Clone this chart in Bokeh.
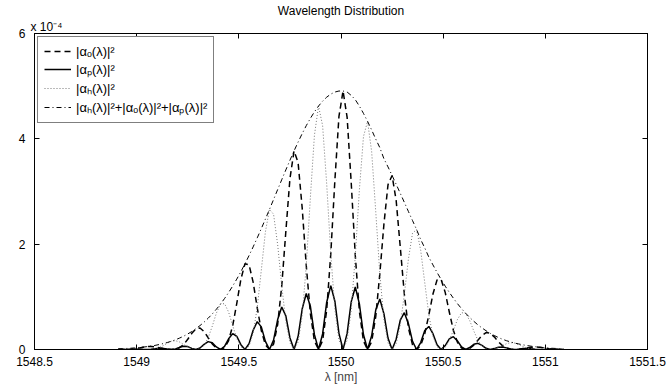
from bokeh.plotting import figure
from bokeh.models import Range1d, LinearAxis, FixedTicker, Legend, LegendItem, Title
from bokeh.embed import file_html
from bokeh.resources import INLINE

# wavelength samples [nm]
wavelength = [
    1548.91, 1548.93, 1548.95, 1548.97, 1548.99,
    1549.01, 1549.03, 1549.05, 1549.07, 1549.09, 1549.11, 1549.13, 1549.15, 1549.17, 1549.19,
    1549.21, 1549.23, 1549.25, 1549.27, 1549.29, 1549.31, 1549.33, 1549.35, 1549.37, 1549.39,
    1549.41, 1549.43, 1549.45, 1549.47, 1549.49, 1549.51, 1549.53, 1549.55, 1549.57, 1549.59,
    1549.61, 1549.63, 1549.65, 1549.67, 1549.69, 1549.71, 1549.73, 1549.75, 1549.77, 1549.79,
    1549.81, 1549.83, 1549.85, 1549.87, 1549.89, 1549.91, 1549.93, 1549.95, 1549.97, 1549.99,
    1550.01, 1550.03, 1550.05, 1550.07, 1550.09, 1550.11, 1550.13, 1550.15, 1550.17, 1550.19,
    1550.21, 1550.23, 1550.25, 1550.27, 1550.29, 1550.31, 1550.33, 1550.35, 1550.37, 1550.39,
    1550.41, 1550.43, 1550.45, 1550.47, 1550.49, 1550.51, 1550.53, 1550.55, 1550.57, 1550.59,
    1550.61, 1550.63, 1550.65, 1550.67, 1550.69, 1550.71, 1550.73, 1550.75, 1550.77, 1550.79,
    1550.81, 1550.83, 1550.85, 1550.87, 1550.89, 1550.91, 1550.93, 1550.95, 1550.97, 1550.99,
    1551.01, 1551.03, 1551.05, 1551.07, 1551.09,
]

# |alpha_o|^2  (x 1e-4)
alpha_o = [
    0.000, 0.000, 0.001, 0.004, 0.011,
    0.024, 0.041, 0.054, 0.059, 0.051, 0.035, 0.018, 0.005, 0.000, 0.007,
    0.034, 0.095, 0.194, 0.308, 0.395, 0.409, 0.341, 0.223, 0.106, 0.027,
    0.000, 0.035, 0.169, 0.452, 0.877, 1.333, 1.627, 1.609, 1.278, 0.795,
    0.359, 0.088, 0.000, 0.102, 0.475, 1.209, 2.238, 3.239, 3.769, 3.551,
    2.690, 1.594, 0.686, 0.161, 0.000, 0.168, 0.749, 1.818, 3.208, 4.426,
    4.908, 4.408, 3.167, 1.779, 0.722, 0.160, 0.000, 0.149, 0.624, 1.437,
    2.378, 3.127, 3.305, 2.829, 1.947, 1.048, 0.410, 0.087, 0.000, 0.075,
    0.301, 0.657, 1.054, 1.320, 1.330, 1.085, 0.712, 0.365, 0.136, 0.028,
    0.000, 0.022, 0.084, 0.176, 0.268, 0.321, 0.308, 0.240, 0.150, 0.073,
    0.026, 0.005, 0.000, 0.004, 0.014, 0.028, 0.041, 0.048, 0.045, 0.033,
    0.020, 0.009, 0.003, 0.001, 0.000,
]

# |alpha_p|^2  (x 1e-4)
alpha_p = [
    0.001, 0.000, 0.001, 0.005, 0.008,
    0.007, 0.003, 0.000, 0.004, 0.015, 0.024, 0.021, 0.008, 0.000, 0.012,
    0.041, 0.063, 0.055, 0.021, 0.000, 0.028, 0.098, 0.149, 0.127, 0.048,
    0.000, 0.060, 0.203, 0.301, 0.251, 0.092, 0.000, 0.112, 0.365, 0.530,
    0.430, 0.155, 0.000, 0.178, 0.569, 0.806, 0.639, 0.225, 0.000, 0.246,
    0.769, 1.063, 0.823, 0.282, 0.000, 0.295, 0.898, 1.212, 0.917, 0.307,
    0.000, 0.306, 0.905, 1.186, 0.866, 0.280, 0.000, 0.261, 0.749, 0.958,
    0.679, 0.217, 0.000, 0.196, 0.556, 0.699, 0.491, 0.153, 0.000, 0.131,
    0.362, 0.438, 0.301, 0.092, 0.000, 0.075, 0.203, 0.244, 0.163, 0.048,
    0.000, 0.038, 0.100, 0.117, 0.077, 0.022, 0.000, 0.017, 0.043, 0.049,
    0.031, 0.009, 0.000, 0.007, 0.017, 0.019, 0.012, 0.003, 0.000, 0.002,
    0.006, 0.006, 0.004, 0.001, 0.000,
]

# |alpha_h|^2  (x 1e-4)
alpha_h = [
    0.012, 0.016, 0.018, 0.016, 0.011,
    0.006, 0.002, 0.000, 0.002, 0.012, 0.035, 0.074, 0.120, 0.157, 0.167,
    0.142, 0.095, 0.046, 0.012, 0.000, 0.016, 0.081, 0.223, 0.443, 0.689,
    0.861, 0.872, 0.710, 0.452, 0.209, 0.053, 0.000, 0.064, 0.304, 0.795,
    1.506, 2.233, 2.661, 2.568, 1.993, 1.209, 0.533, 0.128, 0.000, 0.141,
    0.641, 1.594, 2.880, 4.069, 4.622, 4.252, 3.144, 1.818, 0.764, 0.175,
    0.000, 0.175, 0.754, 1.779, 3.033, 4.043, 4.332, 3.759, 2.622, 1.437,
    0.566, 0.124, 0.000, 0.112, 0.464, 1.048, 1.720, 2.208, 2.278, 1.883,
    1.265, 0.657, 0.251, 0.052, 0.000, 0.043, 0.170, 0.365, 0.571, 0.699,
    0.688, 0.548, 0.351, 0.176, 0.064, 0.013, 0.000, 0.009, 0.036, 0.073,
    0.110, 0.130, 0.122, 0.095, 0.058, 0.028, 0.010, 0.002, 0.000, 0.001,
    0.005, 0.009, 0.013, 0.014, 0.013,
]

# |alpha_h|^2 + |alpha_o|^2 + |alpha_p|^2  (x 1e-4)
alpha_sum = [
    0.013, 0.016, 0.020, 0.024, 0.030,
    0.037, 0.045, 0.054, 0.065, 0.078, 0.094, 0.112, 0.133, 0.157, 0.185,
    0.217, 0.253, 0.295, 0.342, 0.395, 0.454, 0.520, 0.594, 0.675, 0.764,
    0.861, 0.967, 1.082, 1.205, 1.337, 1.478, 1.627, 1.784, 1.948, 2.119,
    2.295, 2.476, 2.661, 2.848, 3.037, 3.224, 3.410, 3.592, 3.769, 3.938,
    4.099, 4.250, 4.388, 4.512, 4.622, 4.715, 4.791, 4.849, 4.888, 4.908,
    4.908, 4.888, 4.825, 4.743, 4.621, 4.483, 4.332, 4.169, 3.995, 3.833,
    3.623, 3.467, 3.305, 3.137, 2.966, 2.794, 2.620, 2.448, 2.278, 2.088,
    1.928, 1.753, 1.606, 1.464, 1.330, 1.203, 1.085, 0.974, 0.870, 0.775,
    0.688, 0.608, 0.535, 0.468, 0.409, 0.356, 0.308, 0.266, 0.228, 0.195,
    0.167, 0.144, 0.122, 0.105, 0.089, 0.075, 0.063, 0.053, 0.045, 0.037,
    0.030, 0.024, 0.020, 0.016, 0.013,
]

x_ticks = [1548.5, 1549, 1549.5, 1550, 1550.5, 1551, 1551.5]
y_ticks = [0, 2, 4, 6]

FONT = "Liberation Sans"

p = figure(width=669, height=389, output_backend="svg", toolbar_location=None,
           x_range=Range1d(1548.5, 1551.5), y_range=Range1d(0, 6),
           min_border_left=34, min_border_right=22, min_border_top=33,
           min_border_bottom=40)

p.grid.visible = False
p.outline_line_color = "black"
p.outline_line_width = 1
p.background_fill_color = "white"
p.border_fill_color = "white"

def style_axis(ax, ticks, show_labels):
    ax.ticker = FixedTicker(ticks=ticks)
    ax.major_tick_in = 5
    ax.major_tick_out = 0
    ax.minor_tick_line_color = None
    ax.axis_line_color = "black"
    ax.major_tick_line_color = "black"
    ax.major_label_text_font = FONT
    ax.major_label_text_font_size = "12px"
    ax.major_label_text_color = "black"
    if show_labels:
        ax.major_label_standoff = 7
    else:
        ax.major_label_standoff = 0
        ax.major_label_overrides = {t: "" for t in ticks}

style_axis(p.xaxis[0], x_ticks, True)
style_axis(p.yaxis[0], y_ticks, True)
p.yaxis[0].major_label_standoff = 9
p.xaxis[0].axis_label = "λ [nm]"
p.xaxis[0].axis_label_text_font = FONT
p.xaxis[0].axis_label_text_font_size = "12px"
p.xaxis[0].axis_label_text_font_style = "normal"
p.xaxis[0].axis_label_standoff = 1

top_ax = LinearAxis()
style_axis(top_ax, x_ticks, False)
p.add_layout(top_ax, "above")
right_ax = LinearAxis()
style_axis(right_ax, y_ticks, False)
p.add_layout(right_ax, "right")

exp_title = Title(text="x 10⁻⁴", align="left", offset=-4, standoff=0,
                  text_font=FONT, text_font_size="12px", text_font_style="normal",
                  text_color="black")
p.add_layout(exp_title, "above")
main_title = Title(text="Wavelength Distribution", align="center", standoff=0,
                   text_font=FONT, text_font_size="12px", text_font_style="normal",
                   text_color="black")
p.add_layout(main_title, "above")

r_o = p.line(wavelength, alpha_o, line_color="black", line_width=1.5, line_dash="6 4")
r_p = p.line(wavelength, alpha_p, line_color="black", line_width=1.5)
r_h = p.line(wavelength, alpha_h, line_color="#777777", line_width=1, line_dash="1 2")
r_s = p.line(wavelength, alpha_sum, line_color="black", line_width=1, line_dash="5 3 1 3")

legend = Legend(items=[
    LegendItem(label="|αₒ(λ)|²", renderers=[r_o]),
    LegendItem(label="|αₚ(λ)|²", renderers=[r_p]),
    LegendItem(label="|αₕ(λ)|²", renderers=[r_h]),
    LegendItem(label="|αₕ(λ)|²+|αₒ(λ)|²+|αₚ(λ)|²", renderers=[r_s]),
], location="top_left")
legend.margin = 3
legend.padding = 6
legend.spacing = 1
legend.glyph_width = 27
legend.glyph_height = 16
legend.label_height = 16
legend.label_standoff = 5
legend.label_text_font = FONT
legend.label_text_font_size = "13px"
legend.label_text_color = "black"
legend.border_line_color = "black"
legend.border_line_width = 1
legend.background_fill_color = "white"
legend.background_fill_alpha = 1
p.add_layout(legend)

open("out.html", "w").write(file_html(p, INLINE))
